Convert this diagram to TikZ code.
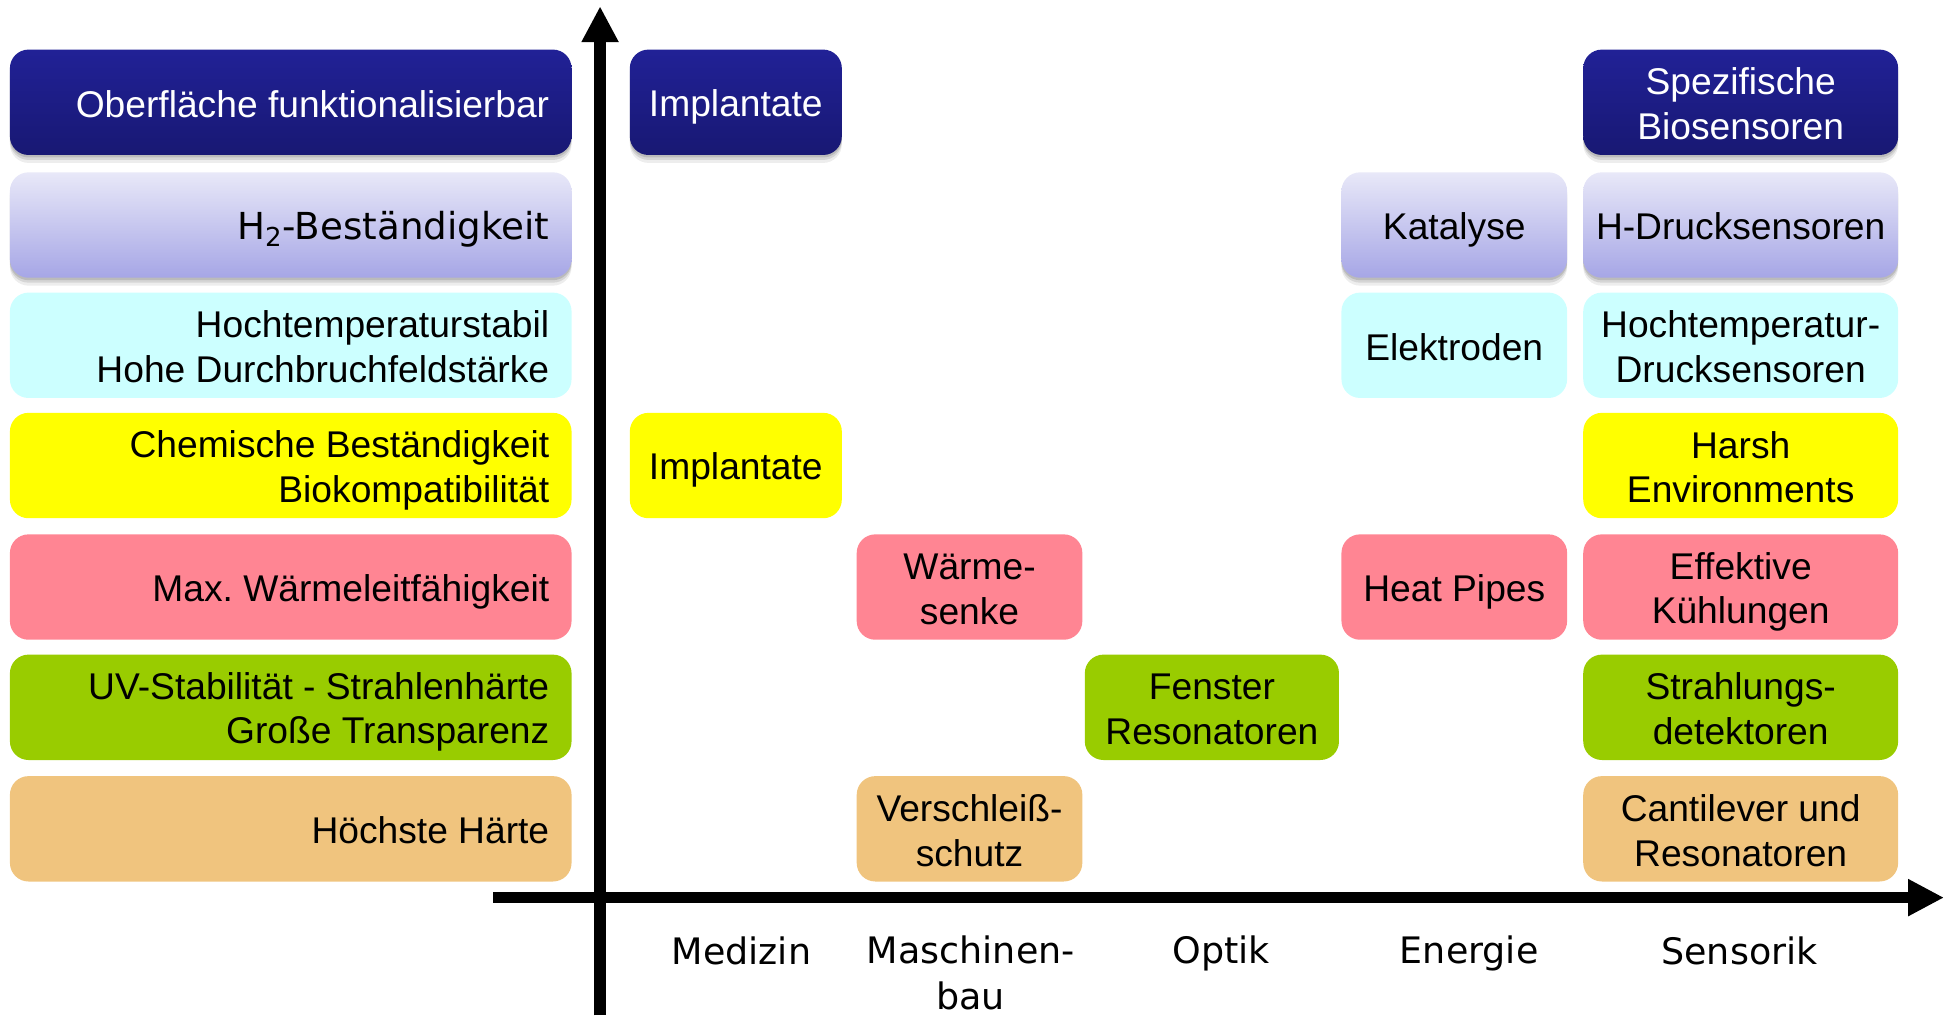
\documentclass[tikz,border=0pt]{standalone}
\usepackage{fontspec}
\setmainfont{Liberation Sans}
\newfontfamily\dejavu{DejaVu Sans}
\usetikzlibrary{arrows.meta,shadows}
\frenchspacing
\definecolor{navyA}{RGB}{33,33,150}
\definecolor{navyB}{RGB}{24,24,115}
\definecolor{lavA}{RGB}{232,232,248}
\definecolor{lavB}{RGB}{166,166,230}
\definecolor{cyanbox}{RGB}{204,255,255}
\definecolor{yellowbox}{RGB}{255,255,0}
\definecolor{pinkbox}{RGB}{255,133,147}
\definecolor{greenbox}{RGB}{153,204,0}
\definecolor{tanbox}{RGB}{240,196,126}
\newcommand{\cellstrut}{\rule[-0.18em]{0pt}{1.16em}}
\newcommand{\txt}[1]{\cellstrut#1\cellstrut}
\begin{document}
\begin{tikzpicture}[x=0.5pt,y=-0.5pt,
  cell/.style={rounded corners=7.5pt, anchor=north west, minimum height=42.5pt,
    inner sep=0pt, outer sep=0pt, align=center,
    font=\fontsize{15}{18}\selectfont, text=black},
  prop/.style={cell, minimum width=226.5pt, text width=208.5pt, align=flush right, inner xsep=9pt},
  shade/.style={
    drop shadow={shadow xshift=0pt, shadow yshift=-1pt, opacity=0.12, fill=black},
    drop shadow={shadow xshift=0pt, shadow yshift=-2pt, opacity=0.10, fill=black},
    drop shadow={shadow xshift=0pt, shadow yshift=-3.2pt, opacity=0.07, fill=black}},
  navy/.style={shade, top color=navyA, bottom color=navyB, text=white},
  lav/.style={shade, top color=lavA, bottom color=lavB},
  cyanb/.style={fill=cyanbox},
  yellowb/.style={fill=yellowbox},
  pinkb/.style={fill=pinkbox},
  greenb/.style={fill=greenbox},
  tanb/.style={fill=tanbox},
  wmed/.style={minimum width=85.5pt},
  wmasch/.style={minimum width=91pt},
  wopt/.style={minimum width=102.5pt},
  wen/.style={minimum width=91pt},
  wsens/.style={minimum width=127pt},
  axis/.style={line width=4.5pt, -{Triangle[length=14.5pt,width=14pt]}},
  axlab/.style={font=\dejavu\fontsize{14.7}{18.5}\selectfont, align=center, inner sep=0pt}
]
\useasboundingbox (0,0) rectangle (1568,819);

% property column
\node[prop, navy]    (p1) at (8,40)  {\txt{Oberfläche funktionalisierbar}};
\node[prop, lav]     (p2) at (8,139) {\txt{{\dejavu H\textsubscript{2}-Beständigkeit}}};
\node[prop, cyanb]   (p3) at (8,236) {\txt{Hochtemperaturstabil\\Hohe Durchbruchfeldstärke}};
\node[prop, yellowb] (p4) at (8,333) {\txt{Chemische Beständigkeit\\Biokompatibilität}};
\node[prop, pinkb]   (p5) at (8,431) {\txt{Max. Wärmeleitfähigkeit}};
\node[prop, greenb]  (p6) at (8,528) {\txt{UV-Stabilität - Strahlenhärte\\Große Transparenz}};
\node[prop, tanb]    (p7) at (8,626) {\txt{Höchste Härte}};

% Medizin
\node[cell, wmed, navy]    (m1) at (508,40)  {\txt{Implantate}};
\node[cell, wmed, yellowb] (m4) at (508,333) {\txt{Implantate}};
% Maschinenbau
\node[cell, wmasch, pinkb] (b5) at (691,431) {\txt{Wärme-\\senke}};
\node[cell, wmasch, tanb]  (b7) at (691,626) {\txt{Verschleiß-\\schutz}};
% Optik
\node[cell, wopt, greenb]  (o6) at (875,528) {\txt{Fenster\\Resonatoren}};
% Energie
\node[cell, wen, lav]      (e2) at (1082,139) {\txt{Katalyse}};
\node[cell, wen, cyanb]    (e3) at (1082,236) {\txt{Elektroden}};
\node[cell, wen, pinkb]    (e5) at (1082,431) {\txt{Heat Pipes}};
% Sensorik
\node[cell, wsens, navy]    (s1) at (1277,40)  {\txt{Spezifische\\Biosensoren}};
\node[cell, wsens, lav]     (s2) at (1277,139) {\txt{H-Drucksensoren}};
\node[cell, wsens, cyanb]   (s3) at (1277,236) {\txt{Hochtemperatur-\\Drucksensoren}};
\node[cell, wsens, yellowb] (s4) at (1277,333) {\txt{Harsh\\Environments}};
\node[cell, wsens, pinkb]   (s5) at (1277,431) {\txt{Effektive\\Kühlungen}};
\node[cell, wsens, greenb]  (s6) at (1277,528) {\txt{Strahlungs-\\detektoren}};
\node[cell, wsens, tanb]    (s7) at (1277,626) {\txt{Cantilever und\\Resonatoren}};

% axes
\coordinate (yb) at (484,819);
\coordinate (yt) at (484,5);
\coordinate (xl) at (398,724);
\coordinate (xr) at (1568,724);
\draw[axis] (yb) -- (yt);
\draw[axis] (xl) -- (xr);

% axis labels
\node[axlab] (lmed)  at (598,766)  {\txt{Medizin}};
\node[axlab] (lmas)  at (783,784)  {\txt{Maschinen-\\bau}};
\node[axlab] (lopt)  at (985,766)  {\txt{Optik}};
\node[axlab] (lene)  at (1185,766) {\txt{Energie}};
\node[axlab] (lsen)  at (1403,766) {\txt{Sensorik}};
\end{tikzpicture}
\end{document}
